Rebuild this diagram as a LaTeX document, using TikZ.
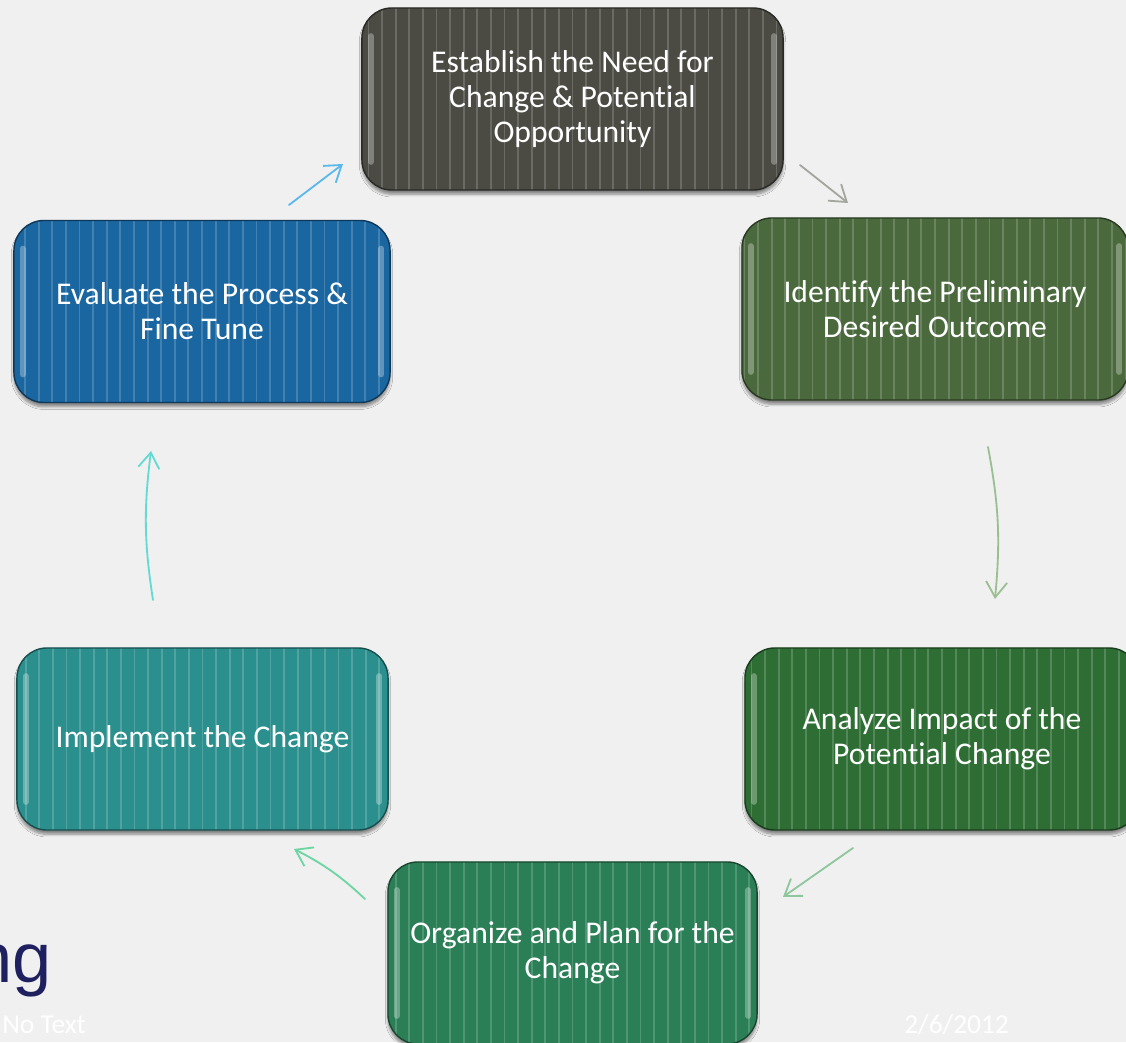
\documentclass[tikz,border=0pt]{standalone}
\usepackage{fontspec}
\setmainfont{Carlito}[Ligatures=NoCommon]
\newfontfamily\arialfont{Liberation Sans}
\usetikzlibrary{positioning, arrows.meta, shadows.blur}

\definecolor{bgcol}{HTML}{F0F0F0}
\definecolor{needcol}{HTML}{4B4B44}
\definecolor{outcomecol}{HTML}{4A6A3D}
\definecolor{impactcol}{HTML}{2E6E35}
\definecolor{organizecol}{HTML}{2B7F56}
\definecolor{implementcol}{HTML}{2A8F8D}
\definecolor{evaluatecol}{HTML}{1A66A1}
\definecolor{titlecol}{HTML}{1E2060}
\definecolor{arrowa}{HTML}{5BB8EA}
\definecolor{arrowb}{HTML}{A3A69E}
\definecolor{arrowc}{HTML}{9BBF92}
\definecolor{arrowd}{HTML}{8FC79C}
\definecolor{arrowe}{HTML}{6DD6A2}
\definecolor{arrowf}{HTML}{63DBD3}

\begin{document}
\begin{tikzpicture}[x=0.025cm, y=0.025cm, >={Straight Barb[length=11pt, width=15pt]},
  stepbox/.style={rounded corners=0.75cm, fill=#1, draw=#1!55!black, line width=1pt,
    text=white, font=\fontsize{22.5}{25}\selectfont, align=center,
    minimum height=4.55cm, inner sep=0pt,
    blur shadow={shadow xshift=0pt, shadow yshift=-3pt, shadow blur steps=6, shadow opacity=45},
    path picture={
      \foreach \k in {-20,...,20}
        \draw[white, opacity=.18, line width=1.3pt]
          ([xshift=\k*0.34cm]path picture bounding box.south) -- ([xshift=\k*0.34cm]path picture bounding box.north);
      \draw[white, opacity=.3, line width=4pt, line cap=round]
        ([shift={(0.22cm,0.7cm)}]path picture bounding box.south west) -- ([shift={(0.22cm,-0.7cm)}]path picture bounding box.north west);
      \draw[white, opacity=.3, line width=4pt, line cap=round]
        ([shift={(-0.22cm,0.7cm)}]path picture bounding box.south east) -- ([shift={(-0.22cm,-0.7cm)}]path picture bounding box.north east);
    }},
  flow/.style={->, line width=1.3pt, line cap=round, draw=#1},
  foot/.style={font=\fontsize{19.5}{19.5}\selectfont, text=white, inner sep=0pt, anchor=base west}]

  % Background
  \fill[bgcol] (0,0) rectangle (1126,1042);
  \useasboundingbox (0,0) rectangle (1126,1042);

  % Title remnant and footer
  \node[anchor=base east, inner sep=0pt, font=\arialfont\fontsize{50}{50}\selectfont, text=titlecol] (tail) at (52,60) {ng};
  \node[foot] (notext) at (2,9) {No Text};
  \node[foot] (date) at (904,9) {2/6/2012};

  % Process steps
  \node[stepbox=needcol, minimum width=10.525cm] (need) at (572.5,943) {Establish the Need for\\Change \& Potential\\Opportunity};
  \node[stepbox=outcomecol, minimum width=9.65cm] (outcome) at (935,733) {Identify the Preliminary\\Desired Outcome};
  \node[stepbox=impactcol, minimum width=9.85cm] (impact) at (942,303) {Analyze Impact of the\\Potential Change};
  \node[stepbox=organizecol, minimum width=9.225cm] (organize) at (572.5,89) {Organize and Plan for the\\Change};
  \node[stepbox=implementcol, minimum width=9.275cm] (implement) at (202.5,303) {Implement the Change};
  \node[stepbox=evaluatecol, minimum width=9.4cm] (evaluate) at (202,730.5) {Evaluate the Process \&\\Fine Tune};

  % Arrow ends
  \coordinate (a1s) at (289,837);  \coordinate (a1e) at (343,878);
  \coordinate (a2s) at (800,877);  \coordinate (a2e) at (848,839);
  \coordinate (a3s) at (988,595);  \coordinate (a3e) at (995,443);
  \coordinate (a4s) at (853,194);  \coordinate (a4e) at (783,145);
  \coordinate (a5s) at (365,143);  \coordinate (a5e) at (294,193);
  \coordinate (a6s) at (153,442);  \coordinate (a6e) at (151,591);

  % Cycle arrows
  \draw[flow=arrowa] (a1s) -- (a1e);
  \draw[flow=arrowb] (a2s) -- (a2e);
  \draw[flow=arrowc] (a3s) to[bend left=8] (a3e);
  \draw[flow=arrowd] (a4s) -- (a4e);
  \draw[flow=arrowe] (a5s) to[bend right=8] (a5e);
  \draw[flow=arrowf] (a6s) to[bend left=8] (a6e);

\end{tikzpicture}
\end{document}
